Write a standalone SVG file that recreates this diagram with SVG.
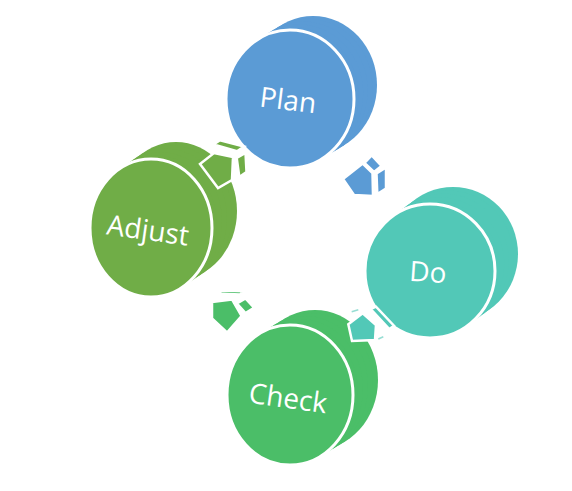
<svg xmlns="http://www.w3.org/2000/svg" width="572" height="491" viewBox="0 0 572 491">
<style>
.lbl{font-family:"Open Sans","Noto Sans","Liberation Sans",sans-serif;font-size:28px;fill:#fff;text-anchor:middle}
.face{stroke:#fff;stroke-width:3}
.arf{stroke:#fff;stroke-width:2.5;stroke-linejoin:miter}
.plan{fill:#5B9BD5}
.do{fill:#52C8B7}
.check{fill:#4BBE68}
.adjust{fill:#70AD47}
</style>
<rect width="572" height="491" fill="#fff"/>
<g id="node-plan" class="plan">
<ellipse cx="313" cy="85" rx="64" ry="69"/>
<ellipse cx="308.4" cy="87.8" rx="64" ry="69"/>
<ellipse cx="303.8" cy="90.6" rx="64" ry="69"/>
<ellipse cx="299.2" cy="93.4" rx="64" ry="69"/>
<ellipse cx="294.6" cy="96.2" rx="64" ry="69"/>
<ellipse class="face" cx="290" cy="99" rx="64" ry="69"/>
<text class="lbl" x="288" y="110" transform="rotate(7 288 101)">Plan</text>
</g>
<g id="node-do" class="do">
<ellipse cx="453" cy="254" rx="65" ry="67"/>
<ellipse cx="448.4" cy="257.4" rx="65" ry="67"/>
<ellipse cx="443.8" cy="260.8" rx="65" ry="67"/>
<ellipse cx="439.2" cy="264.2" rx="65" ry="67"/>
<ellipse cx="434.6" cy="267.6" rx="65" ry="67"/>
<ellipse class="face" cx="430" cy="271" rx="65" ry="67"/>
<text class="lbl" x="428" y="282" transform="rotate(4 428 272)">Do</text>
</g>
<g id="node-check" class="check">
<ellipse cx="315" cy="380" rx="63" ry="70"/>
<ellipse cx="310" cy="383" rx="63" ry="70"/>
<ellipse cx="305" cy="386" rx="63" ry="70"/>
<ellipse cx="300" cy="389" rx="63" ry="70"/>
<ellipse cx="295" cy="392" rx="63" ry="70"/>
<ellipse class="face" cx="290" cy="395" rx="63" ry="70"/>
<text class="lbl" x="288" y="408" transform="rotate(8 288 398)">Check</text>
</g>
<g id="node-adjust" class="adjust">
<ellipse cx="176" cy="211" rx="61" ry="69"/>
<ellipse cx="171" cy="214.4" rx="61" ry="69"/>
<ellipse cx="166" cy="217.8" rx="61" ry="69"/>
<ellipse cx="161" cy="221.2" rx="61" ry="69"/>
<ellipse cx="156" cy="224.6" rx="61" ry="69"/>
<ellipse class="face" cx="151" cy="228" rx="61" ry="69"/>
<text class="lbl" x="148" y="240" transform="rotate(8 148 230)">Adjust</text>
</g>
<g id="connectors">
<g id="arrow-plan-do" class="plan">
<polygon class="arf" points="343,179 362.7,163.5 372.5,173 373,196 354,195"/>
<polygon class="arf" points="364.5,163 371.7,155.5 381.5,166 374,172"/>
<polygon class="arf" points="376.5,173.5 386,167.5 386,188.5 377.3,194"/>
</g>
<g id="arrow-do-check" class="do">
<polygon class="arf" points="370.7,309 376,306.7 394,325.7 389.3,329"/>
<polygon class="arf" stroke-width="3" points="348.3,324.3 362.7,313.3 376,325 375,340 352,341"/>
<line x1="351.7" y1="311.7" x2="358.3" y2="309.7" stroke="#52C8B7" stroke-width="1.5" opacity="0.6"/>
<line x1="378.3" y1="339" x2="383.3" y2="336.7" stroke="#52C8B7" stroke-width="1.5" opacity="0.6"/>
</g>
<g id="arrow-check-adjust" class="check">
<polygon class="arf" points="218,293.5 221.7,290.5 244,291.2 240,294.5"/>
<polygon class="arf" points="212,302 232,299.5 241.5,316 227,332.5 212,318.5"/>
<polygon class="arf" points="237,303.5 245.5,298.5 254,307.7 245.5,313"/>
</g>
<g id="arrow-adjust-plan" class="adjust">
<polygon class="arf" points="213.5,144.5 220,140.2 244,146.5 237,151.2"/>
<polygon class="arf" stroke-width="4" points="200,164 214,153 233,157 232,180 218,188"/>
<polygon class="arf" points="236.7,158 245.5,153 246.5,172 239.3,177"/>
</g>
</g>
</svg>
